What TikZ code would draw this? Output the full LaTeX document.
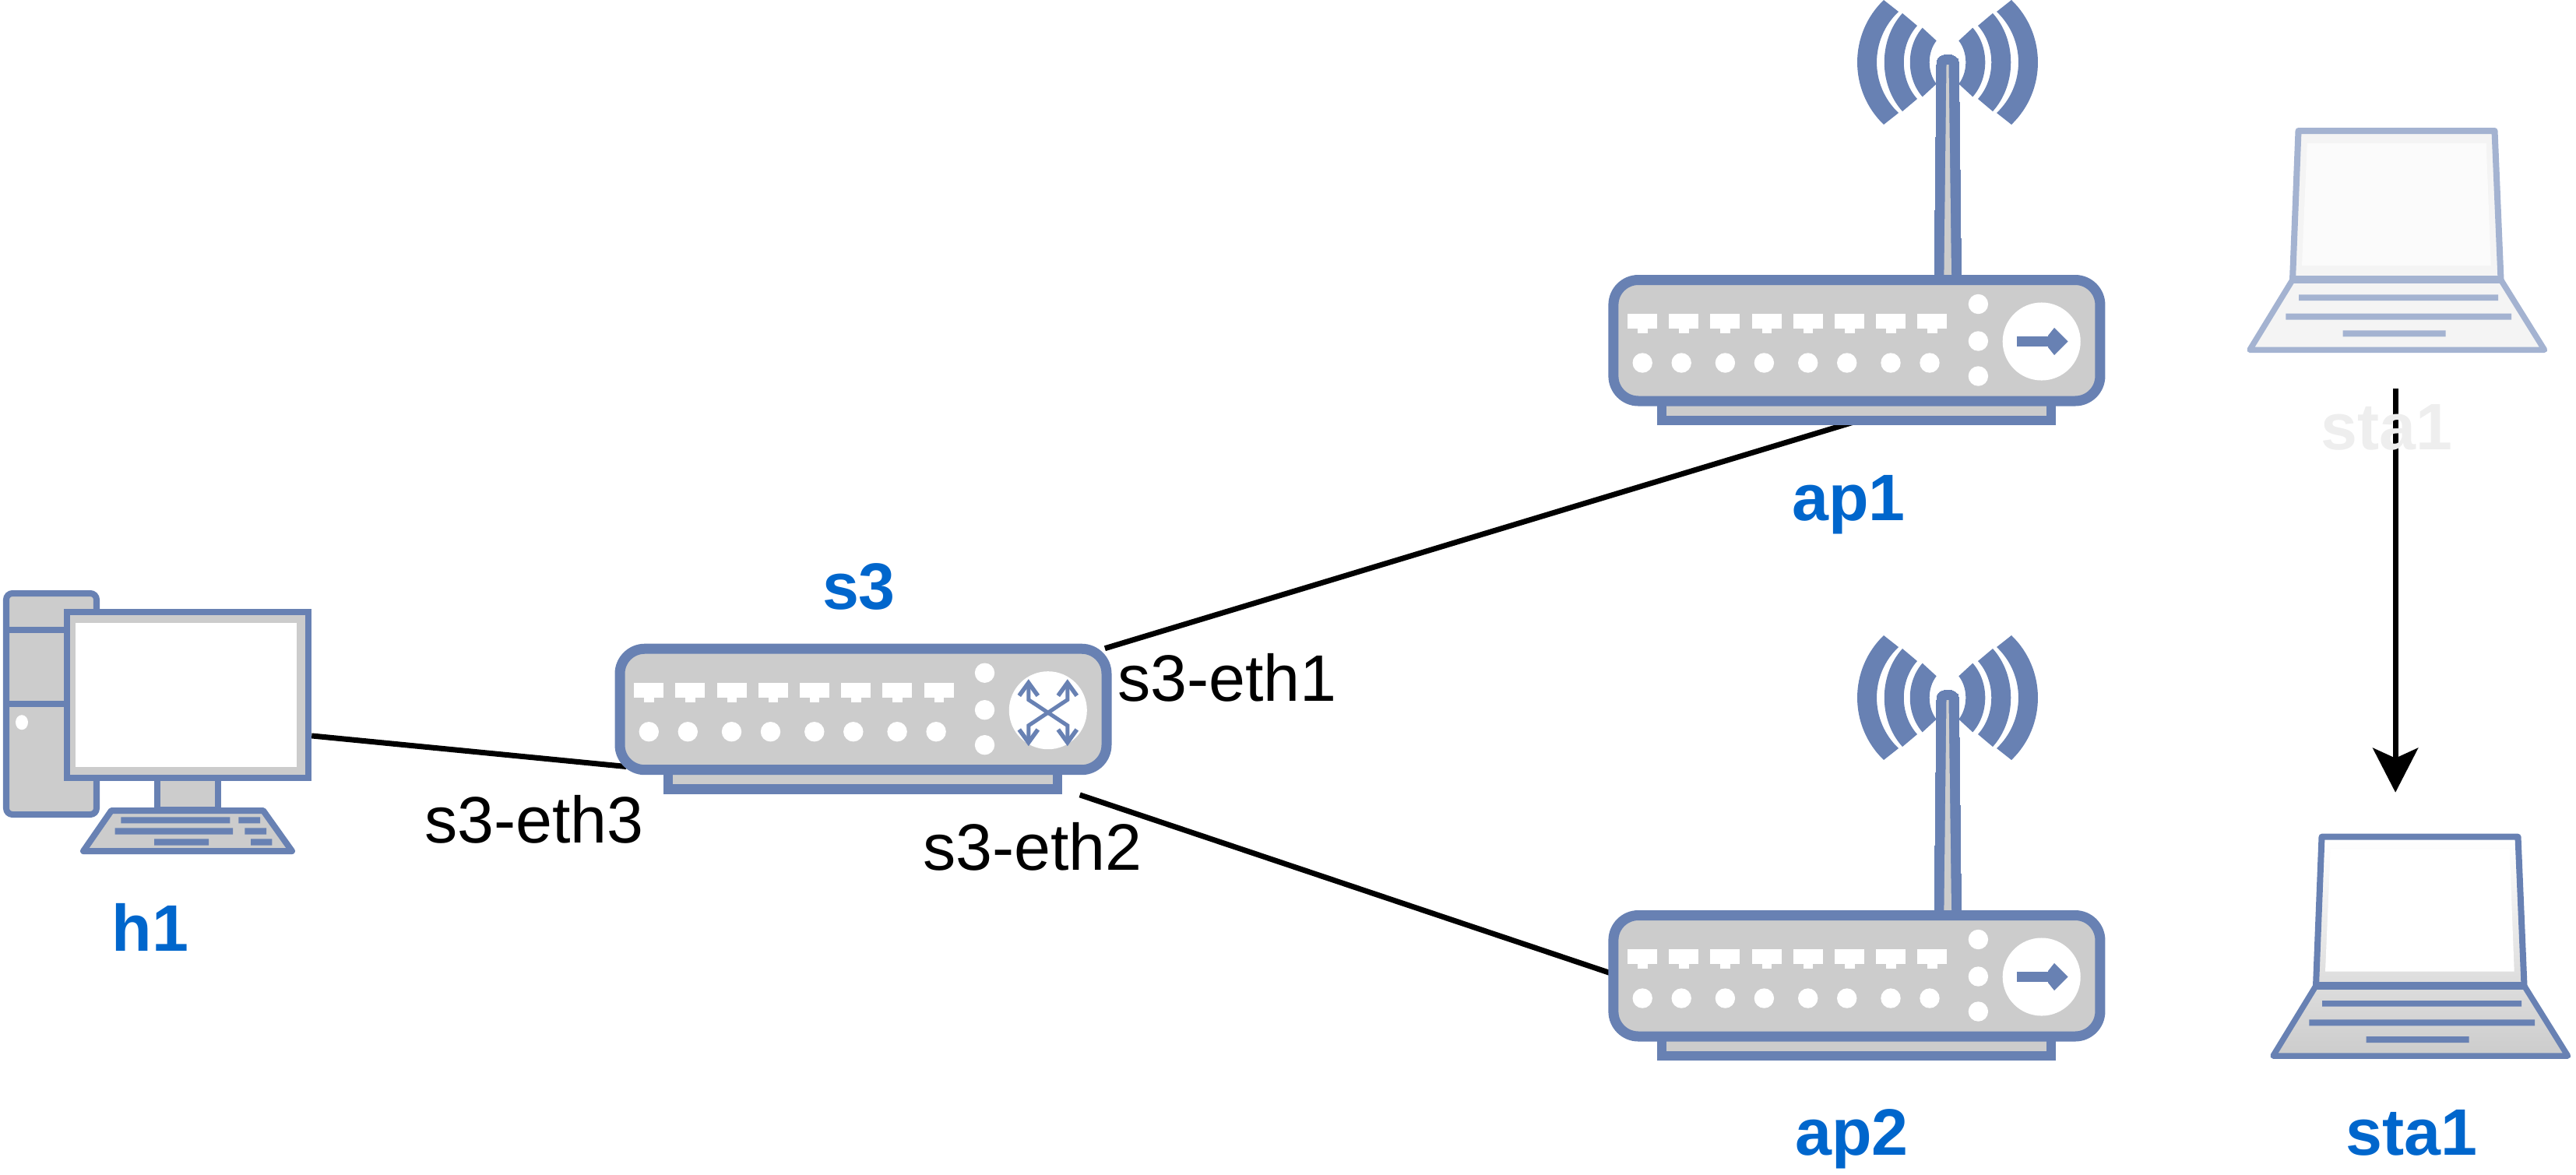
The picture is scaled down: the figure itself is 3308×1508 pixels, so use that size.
\documentclass[tikz,border=0pt]{standalone}
\usepackage{fontspec}
\setmainfont{Liberation Sans}
\usepackage{xcolor}
\usetikzlibrary{arrows.meta,calc}
\definecolor{cNet}{RGB}{104,129,179}
\definecolor{cBody}{RGB}{204,204,204}
\definecolor{cText}{RGB}{0,102,204}
\definecolor{cFadeLine}{RGB}{164,179,209}
\definecolor{cFadeBody}{RGB}{244,244,244}
\definecolor{cFadeScreen}{RGB}{251,251,251}
\definecolor{cFadeText}{RGB}{238,238,238}
\tikzset{
  pics/deck/.style={code={
    \filldraw[cNet, fill=cBody, line width=0.125cm] (68.6,162) rectangle (568.6,187);
    \filldraw[cNet, fill=cBody, line width=0.13cm, rounded corners=0.32cm] (6.5,6.5) rectangle (631.5,162);
    \foreach \i in {0,...,7} {
      \fill[white] ({24.6+53.2*\i},50) rectangle ++(38,19);
      \fill[white] ({37.6+53.2*\i},69) rectangle ++(12.5,6);
    }
    \foreach \dotx in {43.8,93.8,150,200,256.3,306.3,362.6,412.6}
      \fill[white] (\dotx,113) circle[radius=0.127cm];
    \foreach \doty in {37.5,85,130}
      \fill[white] (475,\doty) circle[radius=0.127cm];
    \fill[white] (556.3,85.5) circle[radius=0.5cm];
  }},
  pics/routerpic/.style={code={
    \filldraw[cNet, fill=cNet, line width=0pt] (418.6,7) -- (421.6,-273)
      .. controls (421.6,-286.3) and (450,-286.3) .. (450,-273) -- (453.2,7) -- cycle;
    \fill[cBody] (431,0) -- (434.1,-270) -- (437.1,-270) -- (440.6,0) -- cycle;
    \foreach \sgn in {1,-1}
      \foreach \ox/\oy/\oc/\ocy/\ix/\iy/\ic/\icy in {82/80/127.3/36.4/63/65/100.3/29.6,
          58/63/89/28.7/39/47/62/21.4, 32.3/44.3/53.6/20.2/14.3/27.7/26.3/12.6}
        \fill[cNet, shift={(435.6,-273)}, xscale=\sgn] (\ox,-\oy) .. controls (\oc,-\ocy) and (\oc,\ocy) .. (\ox,\oy)
          -- (\ix,\iy) .. controls (\ic,\icy) and (\ic,-\icy) .. (\ix,-\iy) -- cycle;
    \pic {deck};
    \fill[cNet] (525,79.4) rectangle (566,91.6);
    \fill[cNet] (590.2,85.5) -- (572.6,68) -- (564.6,78) -- (564.6,93) -- (572.6,103) -- cycle;
  }},
  pics/switchbox/.style={code={
    \pic {deck};
    \foreach \xs in {1,-1}
      \foreach \ys in {1,-1} {
        \draw[cNet, line width=0.05cm, shift={(556.3,85.5)}, xscale=\xs, yscale=\ys] (0,0) -- (25,16) -- (25,36);
        \draw[cNet, line width=0.055cm, shift={(556.3,85.5)}, xscale=\xs, yscale=\ys] (13,21) -- (25,37) -- (37,21);
      }
  }},
  pics/hostpic/.style={code={
    \filldraw[cNet, fill=cBody, line width=0.08cm, rounded corners=0.08cm] (4,4) rectangle (120,288);
    \draw[cNet, line width=0.08cm] (4,51) -- (80,51) (4,146) -- (80,146);
    \fill[white] (24,169.7) ellipse[x radius=0.08cm, y radius=0.095cm];
    \filldraw[cNet, fill=cBody, line width=0.08cm] (198,240) rectangle (275.5,282);
    \filldraw[cNet, fill=cBody, line width=0.08cm, line join=round] (139,283) -- (334,283) -- (371,335) -- (103,335) -- cycle;
    \filldraw[cNet, fill=cBody, line width=0.08cm] (82,28) rectangle (392,240.5);
    \fill[white] (92.7,42) rectangle (376.7,227);
    \fill[cNet] (151.3,291.3) rectangle (291.3,299.3) (302.3,291.3) rectangle (330,299.3);
    \fill[cNet] (143.7,305.3) rectangle (295,313.7) (310.3,305.3) rectangle (338,313.7);
    \fill[cNet] (194,319.3) rectangle (264,327.7) (318,319.3) rectangle (345.3,327.7);
  }},
  pics/laptop/.style n args={3}{code={
    \path[#2] (5,285.3) -- (60,195.3) -- (67.5,4) -- (319.5,4) -- (327.5,195.3) -- (383.5,285.3) -- cycle;
    \fill[#3] (78.7,20) -- (308.7,20) -- (314.7,177) -- (72,177) -- cycle;
    \draw[#1, line width=0.08cm, line join=round] (60,195.3) -- (67.5,4) -- (319.5,4) -- (327.5,195.3);
    \draw[#1, line width=0.1cm] (59,195.3) -- (328.5,195.3);
    \draw[#1, line width=0.075cm, line join=round] (60,195.3) -- (5,285.3) -- (383.5,285.3) -- (327.5,195.3);
    \fill[#1] (68,214.3) rectangle (324,222) (51.3,238.6) rectangle (341,246.6) (124.7,260.3) rectangle (256.7,268.3);
  }}
}
\begin{document}
\begin{tikzpicture}[x=0.01cm, y=-0.01cm,
  devbox/.style={inner sep=0pt, outer sep=0pt, anchor=north west},
  routerbox/.style={devbox, minimum width=6.38cm, minimum height=1.93cm},
  switchnode/.style={devbox, minimum width=6.38cm, minimum height=2.0cm},
  lapbox/.style={devbox, minimum width=3.88cm, minimum height=2.89cm},
  devlabel/.style={font=\fontsize{24}{29}\selectfont\bfseries, text=cText, anchor=base, inner sep=0pt},
  portlabel/.style={font=\fontsize{24}{29}\selectfont, anchor=base, inner sep=0pt},
  link/.style={line width=0.07cm},
  flow/.style={line width=0.07cm, -{Stealth[length=0.57cm, width=0.58cm, inset=0.13cm]}}]
\useasboundingbox (0,0) rectangle (3308,1508);
\node[devbox, minimum width=3.96cm, minimum height=3.39cm] (h1) at (4,758) {};
\node[switchnode] (s3) at (789.5,826.7) {};
\node[routerbox] (ap1) at (2065.4,353) {};
\node[routerbox] (ap2) at (2065.4,1169) {};
\node[lapbox] (ghost) at (2884,164) {};
\node[lapbox] (sta1) at (2914,1070.7) {};
\draw[link] (h1.-5.6) -- ([shift={(15,1.5)}]s3.190.5);
\draw[link] ([shift={(-9,6)}]s3.north east) -- ([shift={(12,-9)}]ap1.south);
\draw[link] ([shift={(278,-6)}]s3.south) -- ([shift={(12,4)}]ap2.177.8);
\draw[flow] ([shift={(-2,46)}]ghost.south) -- ([shift={(-32,-53)}]sta1.north);
\pic at (h1.north west) {hostpic};
\pic[yscale=1.035] at (s3.north west) {switchbox};
\pic at (ap1.north west) {routerpic};
\pic at (ap2.north west) {routerpic};
\pic at (ghost.north west) {laptop={cFadeLine}{fill=cFadeBody}{cFadeScreen}};
\pic at (sta1.north west) {laptop={cNet}{top color=white, bottom color=cBody}{white}};
\node[devlabel] (lblh1) at (193,1221) {h1};
\node[devlabel] (lbls3) at (1103,782) {s3};
\node[devlabel] (lblap1) at (2374,668) {ap1};
\node[devlabel] (lblap2) at (2378,1483) {ap2};
\node[devlabel] (lblsta) at (3097,1483) {sta1};
\node[devlabel, text=cFadeText] (lblghost) at (3065,577) {sta1};
\node[portlabel] (eth1) at (1576,900) {s3-eth1};
\node[portlabel] (eth2) at (1326,1117) {s3-eth2};
\node[portlabel] (eth3) at (686,1082) {s3-eth3};
\end{tikzpicture}
\end{document}
